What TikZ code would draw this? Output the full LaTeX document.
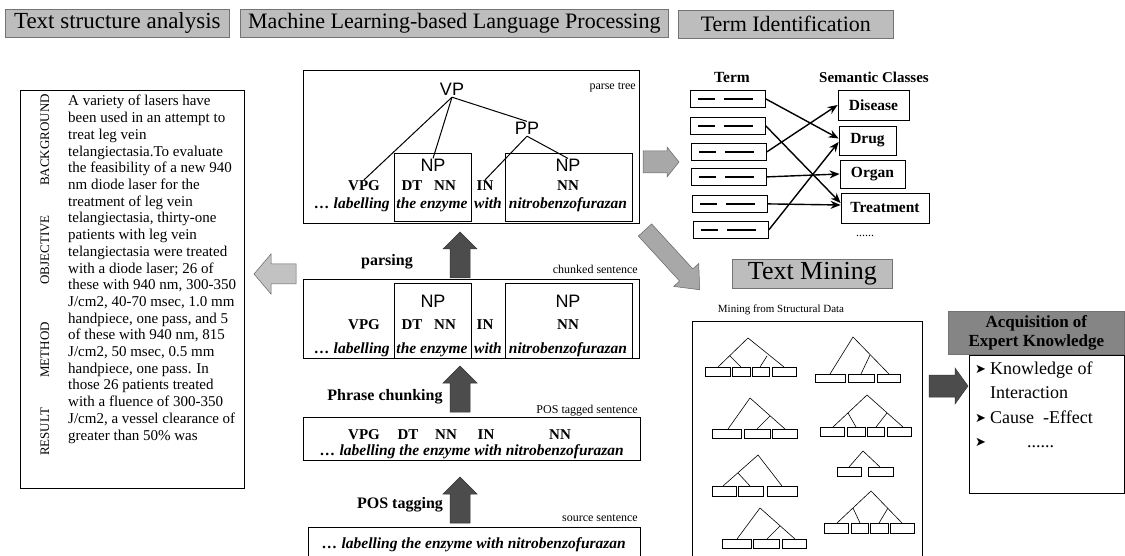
\documentclass[tikz,border=0pt]{standalone}
\usepackage{fontspec}
\setmainfont{Liberation Serif}
\newfontfamily\helv{Liberation Sans}
\newfontfamily\dejavu{DejaVu Sans}
\usetikzlibrary{arrows.meta}

\definecolor{hdrgray}{gray}{0.74}
\definecolor{hdrdark}{gray}{0.52}
\definecolor{arrlight}{gray}{0.76}
\definecolor{arrmid}{gray}{0.66}
\definecolor{arrdark}{gray}{0.30}

% block arrow: style, tail point, angle, length, shaft half-width, head half-width, head length
\newcommand{\fatarrow}[7]{%
  \begin{scope}[shift={#2},rotate=#3]
    \filldraw[#1] (0,-#5) -- ({#4-#7},-#5) -- ({#4-#7},-#6) -- (#4,0)
      -- ({#4-#7},#6) -- ({#4-#7},#5) -- (0,#5) -- cycle;
  \end{scope}}

\tikzset{
  header/.style={draw=black!55, fill=hdrgray, line width=0.7pt, inner sep=0pt,
    anchor=north west, font=\fontsize{22}{24}\selectfont},
  panel/.style={draw, line width=0.8pt, inner sep=0pt, anchor=north west},
  tagw/.style={font=\fontsize{15}{16}\selectfont\bfseries, anchor=base, inner sep=1pt},
  sent/.style={font=\fontsize{15.5}{17}\selectfont\bfseries\itshape, anchor=base, inner sep=1pt},
  phr/.style={font=\helv\fontsize{18}{18}\selectfont, anchor=base, inner sep=1pt},
  smalllab/.style={font=\fontsize{12}{13}\selectfont, anchor=base east, inner sep=0pt},
  steplab/.style={font=\fontsize{16}{18}\selectfont\bfseries, inner sep=0pt},
  treeline/.style={line width=1pt},
  termbox/.style={draw, line width=0.8pt, minimum width=75pt, minimum height=17pt,
    inner sep=0pt, anchor=north west},
  dashbar/.style={line width=1.8pt},
  classbox/.style={draw, line width=0.8pt, inner sep=0pt,
    font=\fontsize{15.5}{17}\selectfont\bfseries},
  termarrow/.style={-{Stealth[length=10pt,width=8pt]}, line width=1.4pt},
  minetree/.style={line width=0.6pt},
  leaf/.style={draw, line width=0.6pt},
  sidelab/.style={rotate=90, font=\fontsize{13}{13}\selectfont, inner sep=0pt},
  absline/.style={anchor=base west, inner sep=0pt, font=\fontsize{15}{17}\selectfont},
  knowline/.style={anchor=base west, inner sep=0pt, font=\fontsize{18}{20}\selectfont},
  bullet/.style={anchor=base west, inner sep=0pt, font=\dejavu\fontsize{13}{14}\selectfont},
  arrowlight/.style={fill=arrlight, draw=black!60, line width=0.5pt},
  arrowmid/.style={fill=arrmid, draw=black!60, line width=0.5pt},
  arrowdark/.style={fill=arrdark, draw=black!80, line width=0.5pt}
}

\begin{document}
\begin{tikzpicture}[x=1pt,y=-1pt]
\useasboundingbox (0,0) rectangle (1125,556);
\clip (0,0) rectangle (1125,556);

% ---------- section headers ----------
\node[header, minimum width=224pt, minimum height=28pt, font=\fontsize{23}{25}\selectfont] (hText) at (5,9) {Text structure analysis};
\node[header, minimum width=428pt, minimum height=28pt] (hML) at (240,9) {Machine Learning-based Language Processing};
\node[header, minimum width=215pt, minimum height=28pt] (hTerm) at (678,10) {Term Identification};
\node[header, minimum width=160pt, minimum height=29pt, font=\fontsize{26}{28}\selectfont] (hMine) at (732,259) {Text Mining};
\node[header, fill=hdrdark, minimum width=176pt, minimum height=43pt, align=center,
      font=\fontsize{17}{19}\selectfont\bfseries] (hAcq) at (948,311) {Acquisition of\\Expert Knowledge};

% ---------- abstract with structure labels ----------
\node[panel, minimum width=224pt, minimum height=398pt] (abstract) at (20,90) {};
\node[sidelab] (lBack) at (45,140) {BACKGROUND};
\node[sidelab] (lObj) at (45,250) {OBJECTIVE};
\node[sidelab] (lMeth) at (45,350) {METHOD};
\node[sidelab] (lRes) at (45,432) {RESULT};
\foreach \l [count=\i] in {
  {A variety of lasers have},
  {been used in an attempt to},
  {treat leg vein},
  {telangiectasia.To evaluate},
  {the feasibility of a new 940},
  {nm diode laser for the},
  {treatment of leg vein},
  {telangiectasia, thirty-one},
  {patients with leg vein},
  {telangiectasia were treated},
  {with a diode laser; 26 of},
  {these with 940 nm, 300-350},
  {J/cm2, 40-70 msec, 1.0 mm},
  {handpiece, one pass, and 5},
  {of these with 940 nm, 815},
  {J/cm2, 50 msec, 0.5 mm},
  {handpiece, one pass. In},
  {those 26 patients treated},
  {with a fluence of 300-350},
  {J/cm2, a vessel clearance of},
  {greater than 50\% was}}
  \node[absline] (abs\i) at (68,{106+(\i-1)*16.7}) {\l};

% ---------- parse tree ----------
\node[panel, minimum width=336pt, minimum height=153pt] (tree) at (303,70) {};
\node[smalllab] (lTree) at (636,90) {parse tree};
\node[panel, minimum width=77pt, minimum height=68pt] (tNPbox) at (394,153) {};
\node[panel, minimum width=127pt, minimum height=68pt] (tNPbox2) at (505,153) {};
\node[phr] (vp) at (452,96) {VP};
\node[phr] (pp) at (527,135) {PP};
\node[phr] (tnp1) at (433,172) {NP};
\node[phr] (tnp2) at (568,172) {NP};
\node[tagw] (tvpg) at (364,191) {VPG};
\node[tagw] (tdt) at (412,191) {DT};
\node[tagw] (tnn1) at (445,191) {NN};
\node[tagw] (tin) at (485,191) {IN};
\node[tagw] (tnn2) at (568,191) {NN};
\node[sent] (ts1) at (352,209) {… labelling};
\node[sent] (ts2) at (432,209) {the enzyme};
\node[sent] (ts3) at (488,209) {with};
\node[sent] (ts4) at (568,209) {nitrobenzofurazan};
\draw[treeline] (vp.south) -- (tvpg.north);
\draw[treeline] (vp.south) -- (tnp1.north);
\draw[treeline] (vp.south) -- (pp.north);
\draw[treeline] (pp.south) -- (tin.north);
\draw[treeline] (pp.south) -- (tnp2.north);

% ---------- chunked sentence ----------
\node[smalllab] (lChunk) at (638,274) {chunked sentence};
\node[panel, minimum width=336pt, minimum height=79pt] (chunk) at (303,279) {};
\node[panel, minimum width=77pt, minimum height=75pt] (cNPbox) at (394,283) {};
\node[panel, minimum width=127pt, minimum height=75pt] (cNPbox2) at (505,283) {};
\node[phr] (cnp1) at (433,307) {NP};
\node[phr] (cnp2) at (568,307) {NP};
\node[tagw] (cvpg) at (364,329) {VPG};
\node[tagw] (cdt) at (412,329) {DT};
\node[tagw] (cnn1) at (445,329) {NN};
\node[tagw] (cin) at (485,329) {IN};
\node[tagw] (cnn2) at (568,329) {NN};
\node[sent] (cs1) at (352,353) {… labelling};
\node[sent] (cs2) at (432,353) {the enzyme};
\node[sent] (cs3) at (488,353) {with};
\node[sent] (cs4) at (568,353) {nitrobenzofurazan};

% ---------- POS tagged sentence ----------
\node[smalllab] (lPOS) at (638,413) {POS tagged sentence};
\node[panel, minimum width=337pt, minimum height=43pt] (pos) at (303,417) {};
\node[tagw] (pvpg) at (364,439) {VPG};
\node[tagw] (pdt) at (408,439) {DT};
\node[tagw] (pnn1) at (446,439) {NN};
\node[tagw] (pin) at (486,439) {IN};
\node[tagw] (pnn2) at (560,439) {NN};
\node[sent] (psent) at (472,455) {… labelling the enzyme with nitrobenzofurazan};

% ---------- source sentence ----------
\node[smalllab] (lSrc) at (638,521) {source sentence};
\node[panel, minimum width=332pt, minimum height=40pt] (src) at (308,527) {};
\node[sent] (ssent) at (474,548) {… labelling the enzyme with nitrobenzofurazan};

% processing steps
\node[steplab] (sParse) at (387,262) {parsing};
\node[steplab] (sChunk) at (385,397) {Phrase chunking};
\node[steplab] (sTag) at (400,505) {POS tagging};
\fatarrow{arrowdark}{(460,278)}{90}{46}{10}{17}{17}
\fatarrow{arrowdark}{(460,412)}{90}{46}{10}{17}{17}
\fatarrow{arrowdark}{(460,523)}{90}{46}{10}{17}{17}

% flows between the columns
\fatarrow{arrowlight}{(296,274)}{180}{42}{10}{20}{17}
\fatarrow{arrowmid}{(643,162)}{0}{36}{11}{15}{12}
\fatarrow{arrowmid}{(645,230)}{-47.5}{81}{9}{17}{20}
\fatarrow{arrowdark}{(929,386)}{0}{39}{11}{18}{13}

% ---------- term identification ----------
\node[font=\fontsize{15.5}{17}\selectfont\bfseries] (lTerm) at (732,77) {Term};
\node[font=\fontsize{15}{17}\selectfont\bfseries] (lSem) at (874,77) {Semantic Classes};
\node[termbox] (t1) at (690,90) {};
\node[termbox] (t2) at (690,117) {};
\node[termbox] (t3) at (691,143) {};
\node[termbox] (t4) at (691,168) {};
\node[termbox] (t5) at (692,195) {};
\node[termbox] (t6) at (693,221) {};
\foreach \t in {t1,t2,t3,t4,t5,t6} {
  \draw[dashbar] ([xshift=8pt]\t.west) -- ([xshift=25pt]\t.west);
  \draw[dashbar] ([xshift=34pt]\t.west) -- ([xshift=63pt]\t.west);
}
\node[classbox, minimum width=71pt, minimum height=30pt] (disease) at (873.5,105) {Disease};
\node[classbox, minimum width=57pt, minimum height=29pt] (drug) at (867.5,140.5) {Drug};
\node[classbox, minimum width=65pt, minimum height=28pt] (organ) at (872.5,174) {Organ};
\node[classbox, minimum width=88pt, minimum height=30pt] (treat) at (885,208) {Treatment};
\node[font=\fontsize{12}{13}\selectfont] (more) at (865,236) {......};
\draw[termarrow] (t1.east) -- ([yshift=2pt]drug.west);
\draw[termarrow] (t2.east) -- ([yshift=5pt]treat.west);
\draw[termarrow] (t3.east) -- (disease.west);
\draw[termarrow] (t4.east) -- (organ.west);
\draw[termarrow] (t5.east) -- ([yshift=3pt]treat.west);
\draw[termarrow] (t6.east) -- ([yshift=-1.5pt]drug.west);

% ---------- text mining ----------
\node[font=\fontsize{11}{12}\selectfont] (lMine) at (781,310) {Mining from Structural Data};
\node[panel, minimum width=230pt, minimum height=245pt] (mine) at (692,321) {};
% tree A
\draw[minetree] (718,367) -- (748,338) -- (784,367);
\draw[minetree] (730,356) -- (741,367);
\draw[minetree] (767,356) -- (760,367);
\draw[leaf] (705,367) rectangle (730,376);
\draw[leaf] (732,367) rectangle (750,376);
\draw[leaf] (752,367) rectangle (769,376);
\draw[leaf] (772,367) rectangle (796,376);
% tree B
\draw[minetree] (830,374) -- (853,337) -- (889,374);
\draw[minetree] (870,355) -- (861,374);
\draw[leaf] (815,374) rectangle (845,382);
\draw[leaf] (848,374) rectangle (874,382);
\draw[leaf] (877,374) rectangle (900,382);
% tree C
\draw[minetree] (728,429) -- (750,398) -- (785,429);
\draw[minetree] (770,416) -- (757,429);
\draw[leaf] (712,429) rectangle (741,438);
\draw[leaf] (744,429) rectangle (770,438);
\draw[leaf] (772,429) rectangle (797,438);
% tree D
\draw[minetree] (833,427) -- (867,395) -- (903,427);
\draw[minetree] (848,413) -- (856,427);
\draw[minetree] (887,413) -- (876,427);
\draw[leaf] (820,427) rectangle (844,436);
\draw[leaf] (847,427) rectangle (865,436);
\draw[leaf] (867,427) rectangle (884,436);
\draw[leaf] (887,427) rectangle (911,436);
% tree E
\draw[minetree] (723,486) -- (758,455) -- (782,486);
\draw[minetree] (738,473) -- (750,486);
\draw[leaf] (712,486) rectangle (736,496);
\draw[leaf] (738,486) rectangle (763,496);
\draw[leaf] (767,486) rectangle (797,496);
% tree F
\draw[minetree] (849,467) -- (863,451) -- (880,467);
\draw[leaf] (837,467) rectangle (861,476);
\draw[leaf] (868,467) rectangle (893,476);
% tree G
\draw[minetree] (737,539) -- (760,508) -- (795,539);
\draw[minetree] (780,526) -- (767,539);
\draw[leaf] (722,539) rectangle (751,548);
\draw[leaf] (753,539) rectangle (779,548);
\draw[leaf] (782,539) rectangle (806,548);
% tree H
\draw[minetree] (837,523) -- (871,491) -- (902,523);
\draw[minetree] (853,508) -- (860,523);
\draw[minetree] (888,508) -- (879,523);
\draw[leaf] (824,523) rectangle (848,533);
\draw[leaf] (851,523) rectangle (868,533);
\draw[leaf] (870,523) rectangle (888,533);
\draw[leaf] (890,523) rectangle (914,533);

% ---------- acquired knowledge ----------
\node[panel, minimum width=155pt, minimum height=138pt] (know) at (969,355) {};
\node[bullet] (b1) at (975,373) {➤};
\node[knowline] (k1) at (990,374) {Knowledge of};
\node[knowline] (k2) at (990,398) {Interaction};
\node[bullet] (b2) at (975,422) {➤};
\node[knowline] (k3) at (990,423) {Cause\ \ -Effect};
\node[bullet] (b3) at (975,446) {➤};
\node[knowline] (k4) at (1027,447) {......};
\end{tikzpicture}
\end{document}
